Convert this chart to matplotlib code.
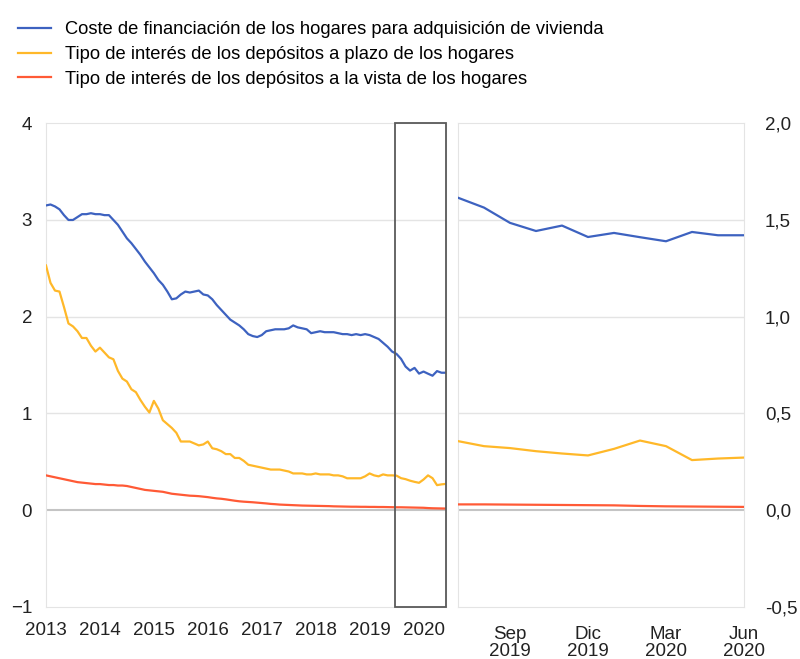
import matplotlib
matplotlib.use("Agg")
import matplotlib.pyplot as plt
from matplotlib.patches import Rectangle
import numpy as np

plt.rcParams['font.family'] = ['Liberation Sans', 'DejaVu Sans']

# datos mensuales ene-2013 .. jun-2020
coste_vivienda = [
    3.15, 3.16, 3.14, 3.11, 3.05, 3.00, 3.00, 3.03, 3.06, 3.06, 3.07, 3.06,
    3.06, 3.05, 3.05, 3.00, 2.95, 2.88, 2.81, 2.76, 2.70, 2.64, 2.57, 2.51,
    2.45, 2.38, 2.33, 2.26, 2.18, 2.19, 2.23, 2.26, 2.25, 2.26, 2.27, 2.23,
    2.22, 2.18, 2.12, 2.07, 2.02, 1.97, 1.94, 1.91, 1.87, 1.82, 1.80, 1.79,
    1.81, 1.85, 1.86, 1.87, 1.87, 1.87, 1.88, 1.91, 1.89, 1.88, 1.87, 1.83,
    1.84, 1.85, 1.84, 1.84, 1.84, 1.83, 1.82, 1.82, 1.81, 1.82, 1.81, 1.82,
    1.81, 1.79, 1.77, 1.73, 1.69, 1.64, 1.615, 1.564, 1.485, 1.443, 1.471, 1.412,
    1.433, 1.411, 1.39, 1.438, 1.421, 1.421,
]
depositos_plazo = [
    2.53, 2.35, 2.27, 2.26, 2.10, 1.93, 1.90, 1.85, 1.78, 1.78, 1.70, 1.64,
    1.68, 1.63, 1.58, 1.56, 1.44, 1.36, 1.33, 1.25, 1.22, 1.14, 1.07, 1.01,
    1.13, 1.05, 0.93, 0.89, 0.85, 0.80, 0.71, 0.71, 0.71, 0.69, 0.67, 0.68,
    0.71, 0.64, 0.63, 0.61, 0.58, 0.58, 0.54, 0.54, 0.51, 0.47, 0.46, 0.45,
    0.44, 0.43, 0.42, 0.42, 0.42, 0.41, 0.40, 0.38, 0.38, 0.38, 0.37, 0.37,
    0.38, 0.37, 0.37, 0.37, 0.36, 0.36, 0.35, 0.33, 0.33, 0.33, 0.33, 0.35,
    0.38, 0.36, 0.35, 0.37, 0.36, 0.36, 0.357, 0.331, 0.321, 0.305, 0.293, 0.283,
    0.317, 0.360, 0.331, 0.259, 0.267, 0.272,
]
depositos_vista = [
    0.36, 0.35, 0.34, 0.33, 0.32, 0.31, 0.30, 0.29, 0.285, 0.28, 0.275, 0.27,
    0.27, 0.265, 0.26, 0.26, 0.255, 0.255, 0.25, 0.24, 0.23, 0.22, 0.21, 0.205,
    0.20, 0.195, 0.19, 0.18, 0.17, 0.165, 0.16, 0.155, 0.15, 0.148, 0.145, 0.14,
    0.135, 0.128, 0.122, 0.118, 0.112, 0.105, 0.098, 0.092, 0.088, 0.085, 0.082, 0.078,
    0.074, 0.07, 0.065, 0.062, 0.058, 0.056, 0.054, 0.052, 0.05, 0.048, 0.047, 0.046,
    0.045, 0.044, 0.043, 0.042, 0.04, 0.039, 0.038, 0.037, 0.036, 0.036, 0.035, 0.035,
    0.034, 0.034, 0.033, 0.033, 0.032, 0.031, 0.030, 0.030, 0.029, 0.028, 0.027, 0.026,
    0.025, 0.022, 0.020, 0.019, 0.018, 0.017,
]
etiquetas = [
    "Coste de financiación de los hogares para adquisición de vivienda",
    "Tipo de interés de los depósitos a plazo de los hogares",
    "Tipo de interés de los depósitos a la vista de los hogares",
]
years = [2013, 2014, 2015, 2016, 2017, 2018, 2019, 2020]
meses_zoom = ["Jul", "Ago", "Sep", "Oct", "Nov", "Dic", "Ene", "Feb", "Mar", "Abr", "May", "Jun"]
anios_zoom = [2019] * 6 + [2020] * 6

colores = ["#3d62c0", "#ffb829", "#ff5a36"]
series = [coste_vivienda, depositos_plazo, depositos_vista]

n = len(coste_vivienda)
t = 2013 + np.arange(n) / 12.0

fig = plt.figure(figsize=(8, 6.59), dpi=100)
ax1 = fig.add_axes([0.0575, 0.079, 0.5, 0.734])
ax2 = fig.add_axes([0.5725, 0.079, 0.3575, 0.734])

grid_c = "#e4e4e4"
for ax in (ax1, ax2):
    for s in ax.spines.values():
        s.set_color(grid_c)
    ax.tick_params(length=0, labelsize=13.5, colors="#222222")

# panel izquierdo
for v in [1, 2, 3]:
    ax1.axhline(v, color=grid_c, lw=1, zorder=0)
ax1.axhline(0, color="#c4c4c4", lw=1.5, zorder=1)
lines = []
for y, c in zip(series, colores):
    l, = ax1.plot(t, y, color=c, lw=1.6, zorder=3)
    lines.append(l)
ax1.set_xlim(t[0], t[-1])
ax1.set_ylim(-1, 4)
ax1.set_yticks([-1, 0, 1, 2, 3, 4])
ax1.set_yticklabels(["\u22121", "0", "1", "2", "3", "4"])
ax1.set_xticks(years)
ax1.set_xticklabels([str(y) for y in years])
ax1.tick_params(axis="x", pad=11)
ax1.tick_params(axis="y", pad=10)
ax1.add_patch(Rectangle((t[-12] - 0.02, -1), t[-1] - t[-12] + 0.02, 5,
                        fill=False, edgecolor="#5a5a5a", lw=1.3, zorder=4, clip_on=False))

# panel derecho (zoom jul-2019 .. jun-2020)
k = np.arange(12)
for v in [0.5, 1.0, 1.5]:
    ax2.axhline(v, color=grid_c, lw=1, zorder=0)
ax2.axhline(0, color="#c4c4c4", lw=1.5, zorder=1)
for y, c in zip(series, colores):
    ax2.plot(k, y[-12:], color=c, lw=1.6, zorder=3)
ax2.set_xlim(0, 11)
ax2.set_ylim(-0.5, 2.0)
ax2.yaxis.tick_right()
ax2.set_yticks([-0.5, 0, 0.5, 1.0, 1.5, 2.0])
ax2.set_yticklabels(["-0,5", "0,0", "0,5", "1,0", "1,5", "2,0"])
ax2.tick_params(axis="y", pad=15)
sel = [2, 5, 8, 11]
ax2.set_xticks(sel)
ax2.set_xticklabels([f"{meses_zoom[i]}\n{anios_zoom[i]}" for i in sel], linespacing=1.0)
ax2.tick_params(axis="x", pad=14)

fig.legend(lines, etiquetas, loc="upper left", bbox_to_anchor=(0.004, 0.99),
           frameon=False, fontsize=13.2, handlelength=1.8, handletextpad=0.75,
           labelspacing=0.42, borderaxespad=0.4)

fig.savefig("out.png", dpi=100)
